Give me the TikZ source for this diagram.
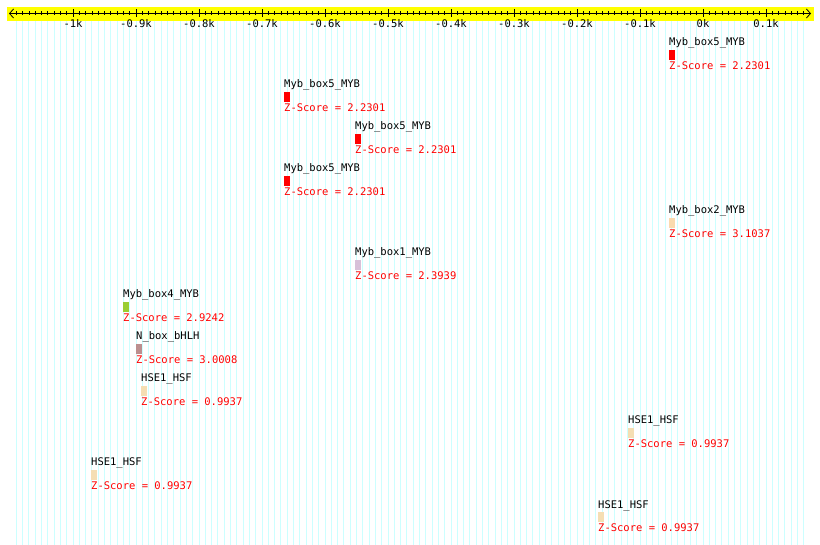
\documentclass[tikz,border=0pt]{standalone}
\usepackage{fontspec}
\setmonofont{DejaVu Sans Mono}
\usepackage{tikz}
\usetikzlibrary{positioning,arrows.meta}
\definecolor{axisyellow}{RGB}{255,255,0}
\definecolor{gridcyan}{RGB}{204,255,255}
\definecolor{mybred}{RGB}{255,0,0}
\definecolor{mybpeach}{RGB}{250,218,175}
\definecolor{myblilac}{RGB}{216,192,216}
\definecolor{mybgreen}{RGB}{154,205,50}
\definecolor{bhlhrose}{RGB}{188,143,143}
\definecolor{hsfwheat}{RGB}{245,222,179}

\begin{document}
\begin{tikzpicture}[x=1pt, y=1pt,
  motif/.style={inner sep=0pt, minimum width=6pt, minimum height=10pt},
  mname/.style={font=\ttfamily\fontsize{10.5}{12}\selectfont, inner sep=0pt,
                text height=7pt, text depth=1pt, anchor=west},
  zscore/.style={mname, text=mybred},
  tlabel/.style={mname, anchor=center},
  >={Straight Barb[length=4pt,width=9pt]}]
\useasboundingbox (0,0) rectangle (820,-545);
% grid and axis
\foreach \k in {-9,...,116}
  \draw[gridcyan, line width=1pt] (73+6.3*\k,-21) -- (73+6.3*\k,-545);
\fill[axisyellow] (7,-7) rectangle (814,-21);
\draw[<->, line width=0.8pt] (9,-13.5) -- (811,-13.5);
\foreach \k in {-9,...,116}
  \draw[line width=0.8pt] (73+6.3*\k,-11.5) -- ++(0,-4);
\foreach \k/\t in {0/-1k,1/-0.9k,2/-0.8k,3/-0.7k,4/-0.6k,5/-0.5k,6/-0.4k,
                   7/-0.3k,8/-0.2k,9/-0.1k,10/0k,11/0.1k} {
  \draw[line width=0.8pt] (73+63*\k,-9.5) -- ++(0,-8);
  \node[tlabel] (t\k) at (73+63*\k,-25) {\t};
}
% motifs
\node[mname] (m1) at (669,-43) {Myb\_box5\_MYB};
\node[motif, fill=mybred, below right=3pt and 0pt of m1.south west] (b1) {};
\node[zscore, below right=2pt and 0pt of b1.south west] (z1) {Z-Score = 2.2301};

\node[mname] (m2) at (284,-85) {Myb\_box5\_MYB};
\node[motif, fill=mybred, below right=3pt and 0pt of m2.south west] (b2) {};
\node[zscore, below right=2pt and 0pt of b2.south west] (z2) {Z-Score = 2.2301};

\node[mname] (m3) at (355,-127) {Myb\_box5\_MYB};
\node[motif, fill=mybred, below right=3pt and 0pt of m3.south west] (b3) {};
\node[zscore, below right=2pt and 0pt of b3.south west] (z3) {Z-Score = 2.2301};

\node[mname] (m4) at (284,-169) {Myb\_box5\_MYB};
\node[motif, fill=mybred, below right=3pt and 0pt of m4.south west] (b4) {};
\node[zscore, below right=2pt and 0pt of b4.south west] (z4) {Z-Score = 2.2301};

\node[mname] (m5) at (669,-211) {Myb\_box2\_MYB};
\node[motif, fill=mybpeach, below right=3pt and 0pt of m5.south west] (b5) {};
\node[zscore, below right=2pt and 0pt of b5.south west] (z5) {Z-Score = 3.1037};

\node[mname] (m6) at (355,-253) {Myb\_box1\_MYB};
\node[motif, fill=myblilac, below right=3pt and 0pt of m6.south west] (b6) {};
\node[zscore, below right=2pt and 0pt of b6.south west] (z6) {Z-Score = 2.3939};

\node[mname] (m7) at (123,-295) {Myb\_box4\_MYB};
\node[motif, fill=mybgreen, below right=3pt and 0pt of m7.south west] (b7) {};
\node[zscore, below right=2pt and 0pt of b7.south west] (z7) {Z-Score = 2.9242};

\node[mname] (m8) at (136,-337) {N\_box\_bHLH};
\node[motif, fill=bhlhrose, below right=3pt and 0pt of m8.south west] (b8) {};
\node[zscore, below right=2pt and 0pt of b8.south west] (z8) {Z-Score = 3.0008};

\node[mname] (m9) at (141,-379) {HSE1\_HSF};
\node[motif, fill=hsfwheat, below right=3pt and 0pt of m9.south west] (b9) {};
\node[zscore, below right=2pt and 0pt of b9.south west] (z9) {Z-Score = 0.9937};

\node[mname] (m10) at (628,-421) {HSE1\_HSF};
\node[motif, fill=hsfwheat, below right=3pt and 0pt of m10.south west] (b10) {};
\node[zscore, below right=2pt and 0pt of b10.south west] (z10) {Z-Score = 0.9937};

\node[mname] (m11) at (91,-463) {HSE1\_HSF};
\node[motif, fill=hsfwheat, below right=3pt and 0pt of m11.south west] (b11) {};
\node[zscore, below right=2pt and 0pt of b11.south west] (z11) {Z-Score = 0.9937};

\node[mname] (m12) at (598,-505) {HSE1\_HSF};
\node[motif, fill=hsfwheat, below right=3pt and 0pt of m12.south west] (b12) {};
\node[zscore, below right=2pt and 0pt of b12.south west] (z12) {Z-Score = 0.9937};
\end{tikzpicture}
\end{document}
